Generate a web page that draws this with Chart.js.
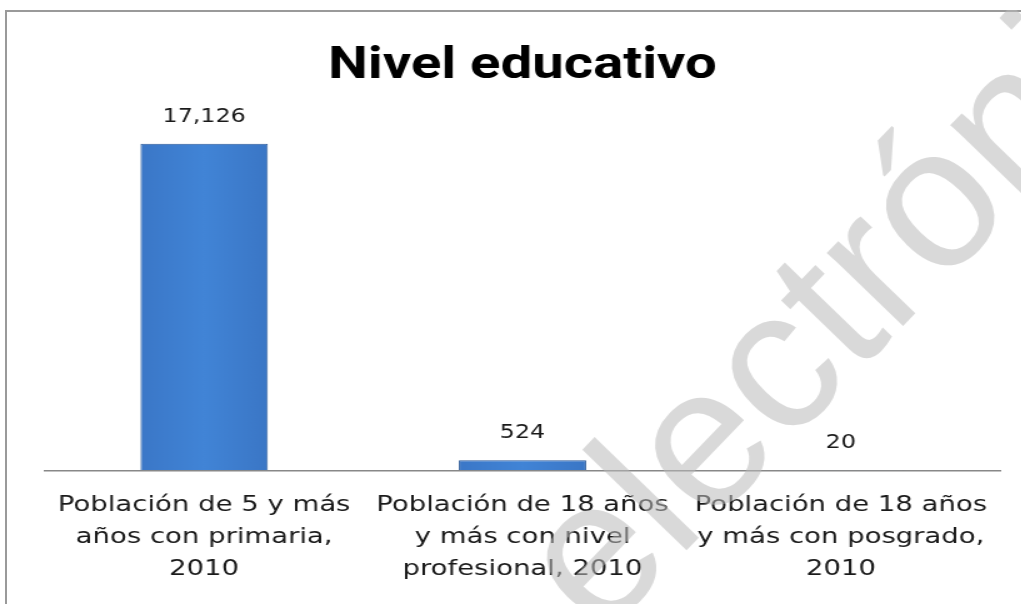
<!DOCTYPE html>
<html>
<head>
<meta charset="utf-8">
<script src="https://cdn.jsdelivr.net/npm/chart.js@4.4.1/dist/chart.umd.min.js"></script>
<style>
  html, body { margin: 0; padding: 0; background: #fff; }
  body { width: 1021px; height: 604px; overflow: hidden; position: relative; }
  #frame {
    position: absolute; left: 5px; top: 10px; width: 1016px; height: 594px;
    border-top: 2px solid #9a9a9a; border-left: 2px solid #9a9a9a;
    box-sizing: border-box;
  }
  /* el original es una captura estirada a lo ancho: se dibuja en 813px y se estira x1.25 */
  #wrap {
    position: absolute; left: 5px; top: 10px; width: 813px; height: 594px;
    transform: scaleX(1.25); transform-origin: 0 0;
  }
</style>
</head>
<body>
<div id="frame"></div>
<div id="wrap"><canvas id="chart"></canvas></div>
<script>
// datos
const categorias = [
  ['Población de 5 y más', 'años con primaria,', '2010'],
  ['Población de 18 años', 'y más con nivel', 'profesional, 2010'],
  ['Población de 18 años', 'y más con posgrado,', '2010']
];
const valores = [17126, 524, 20];
const titulo = 'Nivel educativo';
const marcaAgua = 'electrónica';
const ESTIRA = 1.25;

// degradado horizontal por barra (efecto bisel de Excel)
function barFill(ctx) {
  const chart = ctx.chart;
  const xs = chart.scales.x;
  if (!chart.chartArea || !xs) return '#3f80d2';
  const meta = chart.getDatasetMeta(0);
  const el = meta.data[ctx.dataIndex];
  let cx = xs.getPixelForValue(ctx.dataIndex);
  let w = el && el.width ? el.width : 102;
  const g = chart.ctx.createLinearGradient(cx - w / 2, 0, cx + w / 2, 0);
  g.addColorStop(0, '#2a5aa0');
  g.addColorStop(0.07, '#3a76c6');
  g.addColorStop(0.5, '#4184d6');
  g.addColorStop(0.93, '#3a75c4');
  g.addColorStop(1, '#27569a');
  return g;
}

const etiquetas = {
  id: 'etiquetas',
  afterDatasetsDraw(chart) {
    const c = chart.ctx;
    const meta = chart.getDatasetMeta(0);
    c.save();
    c.font = '19px "DejaVu Sans"';
    c.fillStyle = '#1a1a1a';
    c.textAlign = 'center';
    c.textBaseline = 'middle';
    meta.data.forEach((bar, i) => {
      c.fillText(valores[i].toLocaleString('en-US'), bar.x, bar.y - 27);
    });
    c.restore();
  }
};

// marca de agua, sin estirar
const agua = {
  id: 'agua',
  afterDraw(chart) {
    const c = chart.ctx;
    c.save();
    c.translate((600 - 5) / ESTIRA, 640 - 10);
    c.scale(1 / ESTIRA, 1);
    c.rotate(-46 * Math.PI / 180);
    c.font = '200px "Liberation Sans"';
    c.fillStyle = 'rgba(185,185,185,0.55)';
    c.textBaseline = 'alphabetic';
    c.fillText(marcaAgua, 0, 0);
    c.restore();
  }
};

new Chart(document.getElementById('chart'), {
  type: 'bar',
  data: {
    labels: categorias,
    datasets: [{
      data: valores,
      backgroundColor: barFill,
      borderColor: '#2c5a98',
      borderWidth: 1,
      borderSkipped: 'bottom',
      categoryPercentage: 1,
      barPercentage: 0.4
    }]
  },
  options: {
    responsive: true,
    maintainAspectRatio: false,
    animation: false,
    layout: { padding: { left: 32, right: 17, top: 0, bottom: 0 } },
    plugins: {
      legend: { display: false },
      tooltip: { enabled: false },
      title: {
        display: true,
        text: titulo,
        color: '#000',
        font: { family: 'Roboto', size: 45, weight: 'bold', lineHeight: 1.0 },
        padding: { top: 34, bottom: 0 }
      }
    },
    scales: {
      x: {
        grid: { display: false, drawTicks: false },
        border: { display: true, color: '#888', width: 1.5 },
        ticks: {
          color: '#1a1a1a',
          padding: 19,
          maxRotation: 0,
          autoSkip: false,
          font: { family: '"DejaVu Sans"', size: 22, lineHeight: 1.45 }
        }
      },
      y: {
        display: false,
        min: 0,
        max: 20000
      }
    }
  },
  plugins: [etiquetas, agua]
});
</script>
</body>
</html>
